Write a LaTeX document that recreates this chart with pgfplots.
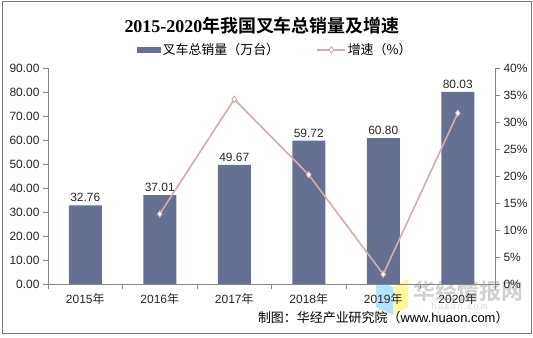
\documentclass[border=0pt]{standalone}
\usepackage{pgfplots}
\pgfplotsset{compat=1.18}
\usepackage{fontspec}
\setmainfont{Liberation Sans}
\newfontfamily\cjk{Noto Sans CJK SC}[BoldFont={Noto Sans CJK SC Bold}]
\newfontfamily\serifnum{Liberation Serif}
\definecolor{barcol}{RGB}{101,112,146}
\definecolor{linecol}{RGB}{211,172,172}
\definecolor{axcol}{RGB}{136,136,136}
\begin{document}
\begin{tikzpicture}[x=1bp,y=1bp]
\useasboundingbox (0,0) rectangle (533,337);
\draw[color=axcol!90!black, line width=0.8bp] (2.5,3.5) rectangle (531.5,336);
\node[font=\fontsize{18}{20}\selectfont\bfseries] at (262,311.5) {\serifnum 2015-2020\cjk 年我国叉车总销量及增速};
% watermark
\fill[blue!35!cyan!30] (376,30) -- (393,22) -- (393,50) -- (376,58) -- cycle;
\fill[yellow!40] (393,22) -- (408,30) -- (408,58) -- (393,50) -- cycle;
\node[text=black!18, font=\fontsize{22}{24}\selectfont\bfseries\cjk, anchor=west] at (410,46) {华经情报网};
\node[text=black!15, font=\fontsize{9}{10}\selectfont, anchor=west] at (428,31) {h\,u\,a\,o\,n\,.\,c\,o\,m};
\node[font=\fontsize{13}{15}\selectfont, anchor=east] at (512,19) {\cjk 制图：华经产业研究院（\normalfont www.huaon.com\cjk ）};

\begin{axis}[
  at={(48bp,53bp)}, anchor=south west,
  width=447bp, height=216bp, scale only axis,
  xmin=-0.5, xmax=5.5, ymin=0, ymax=90,
  axis x line*=bottom, axis y line*=left,
  axis line style={color=axcol, line width=0.8bp},
  every tick/.style={color=axcol, line width=0.8bp},
  tick align=outside,
  xtick={0,...,5},
  xticklabels={2015{\cjk 年},2016{\cjk 年},2017{\cjk 年},2018{\cjk 年},2019{\cjk 年},2020{\cjk 年}},
  major x tick style={draw=none},
  minor xtick={-0.5,0.5,...,5.5},
  minor tick length=5bp, major tick length=5bp,
  ytick={0,10,...,90},
  yticklabel style={/pgf/number format/.cd,fixed,fixed zerofill,precision=2},
  /pgf/number format/assume math mode=true,
  ticklabel style={font=\fontsize{12}{14}\selectfont, text=black!85},
  xticklabel style={yshift=-1bp},
  clip=false,
  legend style={at={(0.508,1.084)}, anchor=center, draw=none, fill=none,
    legend columns=2, font=\fontsize{13}{15}\selectfont,
    nodes={inner sep=1.5bp},
    /tikz/every even column/.append style={column sep=36bp}},
]
\addplot[ybar, bar width=33bp, fill=barcol, draw=none,
  nodes near coords,
  nodes near coords style={font=\fontsize{12}{14}\selectfont, text=black!85, /pgf/number format/.cd,fixed,fixed zerofill,precision=2, /pgf/number format/assume math mode=true},
  legend image code/.code={\fill[barcol] (0bp,-3bp) rectangle (24bp,3bp);}]
  coordinates {(0,32.76) (1,37.01) (2,49.67) (3,59.72) (4,60.80) (5,80.03)};
\addlegendentry{\cjk 叉车总销量（万台）}
\addlegendimage{color=linecol, line width=1.6bp, mark=diamond*, mark size=3.2bp, mark options={fill=white, line width=0.9bp},
  legend image code/.code={\draw[mark repeat=2,mark phase=2] plot coordinates {(0bp,0bp) (14bp,0bp) (28bp,0bp)};}}
\addlegendentry{\cjk 增速（\%）}
\end{axis}

\begin{axis}[
  at={(48bp,53bp)}, anchor=south west,
  width=447bp, height=216bp, scale only axis,
  xmin=-0.5, xmax=5.5, ymin=0, ymax=40,
  axis x line=none, axis y line*=right,
  axis line style={color=axcol, line width=0.8bp},
  every tick/.style={color=axcol, line width=0.8bp},
  tick align=outside, major tick length=5bp,
  ytick={0,5,...,40},
  yticklabel={\pgfmathprintnumber[assume math mode=true]{\tick}\%},
  ticklabel style={font=\fontsize{12}{14}\selectfont, text=black!85},
  clip=false,
]
\addplot[color=linecol, line width=1.6bp, mark=diamond*, mark size=3.2bp, mark options={fill=white, line width=0.9bp}]
  coordinates {(1,12.97) (2,34.21) (3,20.23) (4,1.81) (5,31.63)};
\end{axis}
\end{tikzpicture}
\end{document}
